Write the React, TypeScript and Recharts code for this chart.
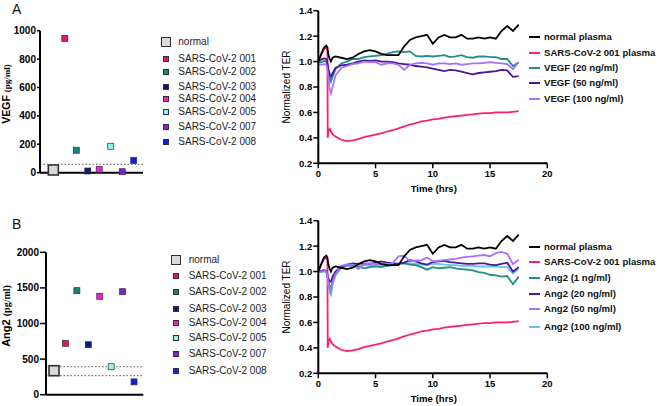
import React from 'react';
import { ScatterChart, Scatter, XAxis, YAxis, ReferenceLine, LineChart, Line } from 'recharts';

const FONT = '"Liberation Sans", Arial, Helvetica, sans-serif';
const SERIF = '"Liberation Serif", "Times New Roman", serif';

// ---------- scatter panels ----------
const sampleNames = ['normal', 'SARS-CoV-2 001', 'SARS-CoV-2 002', 'SARS-CoV-2 003', 'SARS-CoV-2 004', 'SARS-CoV-2 005', 'SARS-CoV-2 007', 'SARS-CoV-2 008'];
const samplePositions = [1, 2, 3, 4, 5, 6, 7, 8];
const sampleColors = ['#D9D9D9', '#E8106E', '#1B7F7A', '#0D1A7A', '#FF1AD9', '#8CF5F5', '#7B22E0', '#0A1FF5'];
const vegfValues = [19, 945, 158, 12, 24, 186, 7, 87];
const vegfCutoffs = [59];
const vegfTicks = [0, 200, 400, 600, 800, 1000];
const ang2Values = [337, 722, 1461, 702, 1382, 393, 1447, 180];
const ang2Cutoffs = [393, 267];
const ang2Ticks = [0, 500, 1000, 1500, 2000];

// ---------- TER time courses ----------
const timeHrs = [0, 0.25, 0.5, 0.7, 0.8, 0.82, 0.9, 1.0, 1.1, 1.25, 1.5,
  2, 2.5, 3, 3.5, 4, 4.5, 5, 5.5, 6, 6.5,
  7, 7.5, 8, 8.5, 9, 9.5, 10, 10.5, 11, 11.5,
  12, 12.5, 13, 13.5, 14, 14.5, 15, 15.5, 16, 16.5,
  17, 17.5];
const timeTicks = [0, 5, 10, 15, 20];
const terTicks = [0.2, 0.4, 0.6, 0.8, 1.0, 1.2, 1.4];

const normalPlasma = [1.00, 1.06, 1.11, 1.125, 1.11, 1.09, 1.05, 1.02, 1.00, 1.03, 1.04,
  1.03, 1.02, 1.03, 1.06, 1.08, 1.09, 1.08, 1.06, 1.05, 1.05,
  1.05, 1.12, 1.17, 1.19, 1.20, 1.21, 1.14, 1.19, 1.21, 1.19,
  1.19, 1.21, 1.18, 1.18, 1.19, 1.18, 1.19, 1.18, 1.24, 1.28,
  1.24, 1.29];
const sars001Plasma = [1.00, 1.05, 1.10, 1.11, 1.09, 0.40, 0.46, 0.47, 0.45, 0.43, 0.41,
  0.385, 0.375, 0.38, 0.39, 0.405, 0.415, 0.425, 0.435, 0.45, 0.46,
  0.475, 0.49, 0.505, 0.515, 0.53, 0.535, 0.545, 0.55, 0.56, 0.565,
  0.57, 0.575, 0.58, 0.585, 0.59, 0.595, 0.595, 0.60, 0.60, 0.60,
  0.605, 0.61];
const vegf20 = [1.00, 0.995, 1.005, 1.00, 0.96, 0.95, 0.90, 0.86, 0.84, 0.88, 0.94,
  0.985, 1.00, 1.02, 1.02, 1.035, 1.04, 1.045, 1.05, 1.06, 1.075,
  1.08, 1.075, 1.08, 1.045, 1.04, 1.045, 1.04, 1.045, 1.05, 1.035,
  1.04, 1.05, 1.035, 1.03, 1.04, 1.04, 1.035, 1.035, 1.02, 1.02,
  0.965, 0.995];
const vegf50 = [1.01, 1.015, 1.025, 1.02, 0.99, 0.98, 0.94, 0.90, 0.88, 0.91, 0.95,
  0.97, 0.975, 0.985, 1.00, 1.01, 1.005, 1.01, 1.00, 1.00, 0.995,
  0.985, 0.98, 0.975, 0.965, 0.96, 0.955, 0.945, 0.935, 0.925, 0.935,
  0.93, 0.92, 0.91, 0.90, 0.91, 0.915, 0.92, 0.925, 0.935, 0.93,
  0.88, 0.885];
const vegf100 = [0.98, 0.975, 0.98, 0.975, 0.94, 0.92, 0.85, 0.78, 0.75, 0.80, 0.89,
  0.95, 0.965, 0.98, 0.985, 1.00, 0.995, 0.995, 0.975, 0.985, 0.985,
  0.975, 0.935, 0.975, 0.985, 0.99, 0.985, 0.975, 0.985, 0.985, 0.98,
  0.985, 0.975, 0.98, 0.985, 0.985, 0.99, 0.995, 0.99, 0.985, 0.98,
  0.94, 0.995];
const ang2_1 = [1.00, 1.00, 1.005, 1.00, 0.97, 0.96, 0.92, 0.88, 0.87, 0.93, 0.98,
  1.03, 1.05, 1.045, 1.04, 1.025, 1.035, 1.04, 1.035, 1.045, 1.05,
  1.06, 1.065, 1.055, 1.05, 1.035, 1.015, 1.035, 1.025, 1.03, 1.035,
  1.025, 1.02, 1.015, 1.01, 0.995, 0.99, 0.975, 0.97, 0.96, 0.965,
  0.90, 0.96];
const ang2_20 = [1.00, 1.005, 1.01, 1.005, 0.98, 0.97, 0.94, 0.925, 0.92, 0.96, 1.00,
  1.04, 1.055, 1.065, 1.06, 1.065, 1.06, 1.07, 1.08, 1.07, 1.065,
  1.06, 1.07, 1.09, 1.08, 1.065, 1.055, 1.075, 1.08, 1.085, 1.075,
  1.07, 1.065, 1.06, 1.06, 1.065, 1.065, 1.055, 1.05, 1.06, 1.07,
  1.00, 1.035];
const ang2_50 = [1.00, 1.00, 1.005, 1.00, 0.97, 0.95, 0.90, 0.86, 0.84, 0.92, 0.98,
  1.045, 1.055, 1.055, 1.02, 1.06, 1.065, 1.06, 1.055, 1.06, 1.065,
  1.12, 1.125, 1.08, 1.085, 1.09, 1.11, 1.08, 1.085, 1.09, 1.095,
  1.10, 1.11, 1.115, 1.12, 1.125, 1.13, 1.12, 1.145, 1.155, 1.14,
  1.06, 1.09];
const ang2_100 = [1.00, 1.00, 1.00, 0.995, 0.96, 0.94, 0.88, 0.83, 0.815, 0.90, 0.97,
  1.035, 1.045, 1.05, 1.045, 1.05, 1.045, 1.055, 1.05, 1.055, 1.06,
  1.065, 1.07, 1.065, 1.06, 1.055, 1.05, 1.06, 1.06, 1.055, 1.05,
  1.05, 1.045, 1.045, 1.045, 1.04, 1.04, 1.04, 1.04, 1.035, 1.035,
  0.985, 1.02];

const vegfLineNames = ['normal plasma', 'SARS-CoV-2 001 plasma', 'VEGF (20 ng/ml)', 'VEGF (50 ng/ml)', 'VEGF (100 ng/ml)'];
const vegfLineColors = ['#000000', '#FF1F6B', '#1F8F87', '#4B1796', '#A970FF'];
const ang2LineNames = ['normal plasma', 'SARS-CoV-2 001 plasma', 'Ang2 (1 ng/ml)', 'Ang2 (20 ng/ml)', 'Ang2 (50 ng/ml)', 'Ang2 (100 ng/ml)'];
const ang2LineColors = ['#000000', '#FF1F6B', '#1F8F87', '#4B1796', '#A970FF', '#5CC8F0'];

const vegfRows = timeHrs.map((t, i) => ({ t, s0: normalPlasma[i], s1: sars001Plasma[i], s2: vegf20[i], s3: vegf50[i], s4: vegf100[i] }));
const ang2Rows = timeHrs.map((t, i) => ({ t, s0: normalPlasma[i], s1: sars001Plasma[i], s2: ang2_1[i], s3: ang2_20[i], s4: ang2_50[i], s5: ang2_100[i] }));

const axisLine = { stroke: '#000', strokeWidth: 2 };
const tickLine = { stroke: '#000', strokeWidth: 1.5 };

const squareShape = (size: number, stroke: string, sw: number) => (props: any) => {
  const { cx, cy, fill } = props;
  return <rect x={cx - size / 2} y={cy - size / 2} width={size} height={size} fill={fill} stroke={stroke} strokeWidth={sw} />;
};

function SamplePanel({ values, ticks, cutoffs, yMax, xMin, yWidth, tickSize, width, height, margin }: any) {
  return (
    <ScatterChart width={width} height={height} margin={margin}>
      <XAxis type="number" dataKey="x" domain={[xMin, 8.81]} allowDataOverflow tick={false} tickLine={false} axisLine={axisLine} height={5} />
      <YAxis type="number" dataKey="y" domain={[0, yMax]} ticks={ticks} interval={0} width={yWidth}
        tick={{ fill: '#000', fontSize: 10, fontWeight: 700, fontFamily: FONT }} tickSize={tickSize} tickMargin={1}
        axisLine={axisLine} tickLine={tickLine} />
      {cutoffs.map((c: number) => (
        <ReferenceLine key={c} y={c} stroke="#555" strokeWidth={1} strokeDasharray="1.5 2" ifOverflow="visible" />
      ))}
      {values.map((v: number, i: number) => (
        <Scatter key={sampleNames[i]} name={sampleNames[i]} data={[{ x: samplePositions[i], y: v }]} fill={sampleColors[i]}
          shape={i === 0 ? squareShape(10, '#333', 1.6) : squareShape(6, '#333', 0.7)} isAnimationActive={false} />
      ))}
    </ScatterChart>
  );
}

function TerPanel({ rows, names, colors, order, margin, height }: any) {
  return (
    <LineChart width={290} height={height} data={rows} margin={margin}>
      <XAxis type="number" dataKey="t" domain={[0, 20]} ticks={timeTicks} interval={0} height={20}
        tick={{ fill: '#000', fontSize: 9.5, fontWeight: 700, fontFamily: FONT }} tickSize={5} tickMargin={2}
        axisLine={axisLine} tickLine={tickLine} />
      <YAxis type="number" domain={[0.2, 1.4]} ticks={terTicks} interval={0} width={48.3}
        tickFormatter={(v: number) => v.toFixed(1)}
        tick={{ fill: '#000', fontSize: 9.5, fontWeight: 700, fontFamily: FONT }} tickSize={5} tickMargin={1}
        axisLine={axisLine} tickLine={tickLine} />
      {order.map((k: number) => (
        <Line key={k} type="linear" dataKey={'s' + k} name={names[k]} stroke={colors[k]} strokeWidth={1.8}
          dot={false} isAnimationActive={false} />
      ))}
    </LineChart>
  );
}

function SampleLegend({ cx, textLeft, ys }: { cx: number; textLeft: number; ys: number[] }) {
  return (
    <>
      {sampleNames.map((name, i) => {
        const s = i === 0 ? 10 : 6;
        return (
          <React.Fragment key={name}>
            <div style={{ position: 'absolute', left: cx - s / 2, top: ys[i] - s / 2, width: s, height: s, boxSizing: 'border-box',
              background: sampleColors[i], border: i === 0 ? '1.6px solid #333' : '0.7px solid #333' }} />
            <div style={{ position: 'absolute', left: textLeft, top: ys[i] - 7, height: 14, lineHeight: '14px', fontSize: 10,
              color: '#222', whiteSpace: 'nowrap' }}>{name}</div>
          </React.Fragment>
        );
      })}
    </>
  );
}

function LineLegend({ names, colors, ys }: { names: string[]; colors: string[]; ys: number[] }) {
  return (
    <>
      {names.map((name, i) => (
        <React.Fragment key={name}>
          <div style={{ position: 'absolute', left: 529, top: ys[i] - 1, width: 11, height: 2, background: colors[i] }} />
          <div style={{ position: 'absolute', left: 544, top: ys[i] - 7, height: 14, lineHeight: '14px', fontSize: 9.6,
            fontWeight: 700, color: '#111', whiteSpace: 'nowrap' }}>{name}</div>
        </React.Fragment>
      ))}
    </>
  );
}

export default function App() {
  return (
    <div style={{ position: 'absolute', left: 0, top: 0, width: 660, height: 406, background: '#fff', fontFamily: FONT, overflow: 'hidden' }}>
      <div style={{ position: 'absolute', left: 0, top: 0 }}>
        <SamplePanel values={vegfValues} ticks={vegfTicks} cutoffs={vegfCutoffs} yMax={1000} xMin={-0.16} yWidth={40} tickSize={3}
          width={150} height={180} margin={{ top: 30.7, right: 7, bottom: 2.3, left: 0 }} />
      </div>
      <div style={{ position: 'absolute', left: 0, top: 240 }}>
        <SamplePanel values={ang2Values} ticks={ang2Ticks} cutoffs={ang2Cutoffs} yMax={2000} xMin={0.3} yWidth={46} tickSize={6}
          width={150} height={160} margin={{ top: 12.3, right: 6.7, bottom: 0.3, left: 0 }} />
      </div>
      <div style={{ position: 'absolute', left: 270, top: 0 }}>
        <TerPanel rows={vegfRows} names={vegfLineNames} colors={vegfLineColors} order={[1, 2, 3, 4, 0]} height={200}
          margin={{ top: 10.7, right: 12.7, bottom: 16.7, left: 0 }} />
      </div>
      <div style={{ position: 'absolute', left: 270, top: 200 }}>
        <TerPanel rows={ang2Rows} names={ang2LineNames} colors={ang2LineColors} order={[1, 5, 2, 3, 4, 0]} height={206}
          margin={{ top: 20.7, right: 12.7, bottom: 12.7, left: 0 }} />
      </div>

      <SampleLegend cx={165.5} textLeft={178.3} ys={[42.3, 59, 72.3, 87.3, 99.3, 112.3, 126.7, 141.7]} />
      <SampleLegend cx={175.5} textLeft={188.7} ys={[260, 276, 291.7, 309.3, 323.3, 337.7, 354.3, 370.7]} />
      <LineLegend names={vegfLineNames} colors={vegfLineColors} ys={[36.7, 52.7, 68.3, 83.3, 99]} />
      <LineLegend names={ang2LineNames} colors={ang2LineColors} ys={[246.7, 262.3, 278.3, 293.7, 309.3, 327]} />

      <svg width={660} height={406} style={{ position: 'absolute', left: 0, top: 0, pointerEvents: 'none' }}>
        <text x={12} y={13.5} fontSize={14} fontFamily={FONT} fill="#111">A</text>
        <text x={12} y={228.5} fontSize={14} fontFamily={FONT} fill="#111">B</text>
        <text transform="translate(10,94) rotate(-90)" textAnchor="middle" fill="#000">
          <tspan fontFamily={FONT} fontWeight={700} fontSize={10.5}>VEGF </tspan>
          <tspan fontFamily={SERIF} fontWeight={700} fontSize={9}>(pg/ml)</tspan>
        </text>
        <text transform="translate(10,316) rotate(-90)" textAnchor="middle" fill="#000">
          <tspan fontFamily={FONT} fontWeight={700} fontSize={11}>Ang2 </tspan>
          <tspan fontFamily={SERIF} fontWeight={700} fontSize={10}>(pg/ml)</tspan>
        </text>
        <text transform="translate(290,87) rotate(-90)" textAnchor="middle" fontFamily={FONT} fontSize={10} fill="#000">Normalized TER</text>
        <text transform="translate(290,297) rotate(-90)" textAnchor="middle" fontFamily={FONT} fontSize={10} fill="#000">Normalized TER</text>
        <text x={433.8} y={192} textAnchor="middle" fontFamily={FONT} fontSize={9.6} fontWeight={700} fill="#000">Time (hrs)</text>
        <text x={433.8} y={402} textAnchor="middle" fontFamily={FONT} fontSize={9.6} fontWeight={700} fill="#000">Time (hrs)</text>
      </svg>
    </div>
  );
}
